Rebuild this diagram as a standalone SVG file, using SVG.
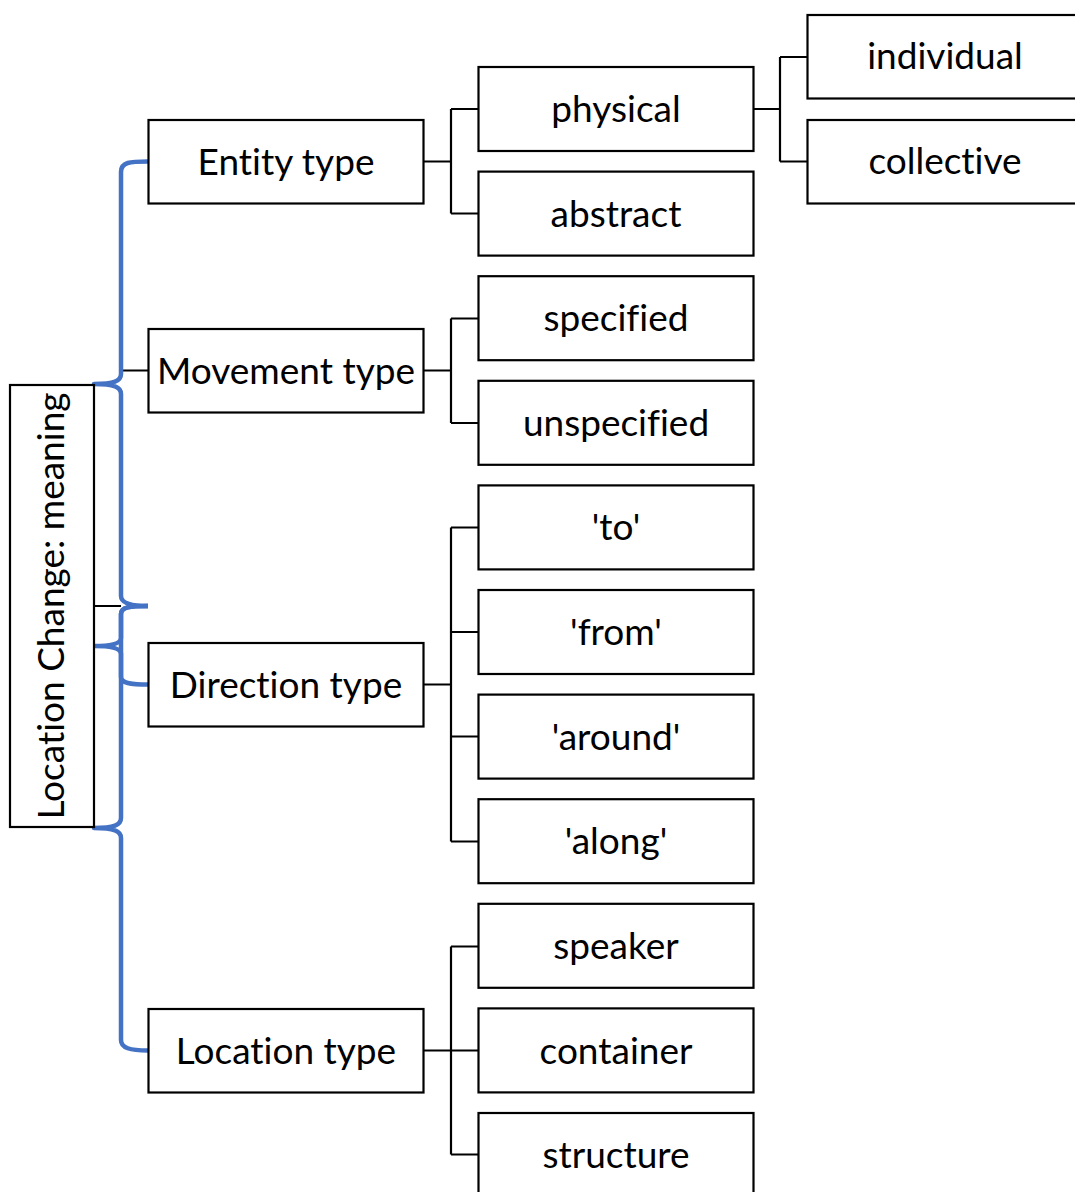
<svg xmlns="http://www.w3.org/2000/svg" width="1075" height="1192" viewBox="0 0 1075 1192">
<style>
.box{fill:#fff;stroke:#000;stroke-width:2.2}
.t{font-family:Lato,"Liberation Sans",sans-serif;font-size:37px;fill:#000;text-anchor:middle;font-variant-ligatures:none}
.c{fill:none;stroke:#000;stroke-width:2.2}
.b{fill:none;stroke:#4472C4;stroke-width:4.5;stroke-linejoin:round}
</style>
<rect width="1075" height="1192" fill="#fff"/>
<g id="connectors">
<path class="c" d="M424,161.5H451M451,109V213.5M451,109H478M451,213.5H478"/>
<path class="c" d="M424,370.5H451M451,318.5V423M451,318.5H478M451,423H478"/>
<path class="c" d="M424,684.5H451M451,527.5V841.5M451,527.5H478M451,632H478M451,736.5H478M451,841.5H478"/>
<path class="c" d="M424,1050.5H478M451,946.5V1154.5M451,946.5H478M451,1154.5H478"/>
<path class="c" d="M753,109H780M780,57V161.5M780,57H807M780,161.5H807"/>
<path class="c" d="M121,370.5H148M94,606H121"/>
<path class="b" d="M148,161.5C130,161.5 121,162 121,172L121,374C121,381 114,384 94,384C114,384 121,387 121,394L121,596C121,603 130,606 148,606"/>
<path class="b" d="M148,606C130,606 121,607 121,614L121,638C121,643 114,646 94,646C114,646 121,649 121,654L121,677C121,683 130,684.5 148,684.5"/>
<path class="b" d="M148,606C130,606 121,607 121,614L121,818C121,825 114,828 94,828C114,828 121,831 121,838L121,1040C121,1048 130,1050.5 148,1050.5"/>
</g>
<g id="root">
<rect class="box" x="10" y="385" width="84" height="442"/>
<text class="t" transform="translate(64,606) rotate(-90)">Location Change: meaning</text>
</g>
<g id="entity"><rect class="box" x="148.5" y="120" width="275" height="83.5"/><text class="t" x="286" y="175">Entity type</text></g>
<g id="movement"><rect class="box" x="148.5" y="329" width="275" height="83.5"/><text class="t" x="286" y="384">Movement type</text></g>
<g id="direction"><rect class="box" x="148.5" y="643" width="275" height="83.5"/><text class="t" x="286" y="698">Direction type</text></g>
<g id="location"><rect class="box" x="148.5" y="1009" width="275" height="83.5"/><text class="t" x="286" y="1064">Location type</text></g>
<g id="physical"><rect class="box" x="478.5" y="67" width="275" height="84"/><text class="t" x="616" y="122">physical</text></g>
<g id="abstract"><rect class="box" x="478.5" y="171.6" width="275" height="84"/><text class="t" x="616" y="227">abstract</text></g>
<g id="specified"><rect class="box" x="478.5" y="276.2" width="275" height="84"/><text class="t" x="616" y="331">specified</text></g>
<g id="unspecified"><rect class="box" x="478.5" y="380.8" width="275" height="84"/><text class="t" x="616" y="436">unspecified</text></g>
<g id="to"><rect class="box" x="478.5" y="485.4" width="275" height="84"/><text class="t" x="616" y="540">'to'</text></g>
<g id="from"><rect class="box" x="478.5" y="590" width="275" height="84"/><text class="t" x="616" y="645">'from'</text></g>
<g id="around"><rect class="box" x="478.5" y="694.6" width="275" height="84"/><text class="t" x="616" y="750">'around'</text></g>
<g id="along"><rect class="box" x="478.5" y="799.2" width="275" height="84"/><text class="t" x="616" y="854">'along'</text></g>
<g id="speaker"><rect class="box" x="478.5" y="903.8" width="275" height="84"/><text class="t" x="616" y="959">speaker</text></g>
<g id="container"><rect class="box" x="478.5" y="1008.4" width="275" height="84"/><text class="t" x="616" y="1064">container</text></g>
<g id="structure"><rect class="box" x="478.5" y="1113" width="275" height="84"/><text class="t" x="616" y="1168">structure</text></g>
<g id="individual"><rect class="box" x="807.5" y="15" width="276" height="83.5"/><text class="t" x="945" y="69">individual</text></g>
<g id="collective"><rect class="box" x="807.5" y="120" width="276" height="83.5"/><text class="t" x="945" y="174">collective</text></g>
</svg>
